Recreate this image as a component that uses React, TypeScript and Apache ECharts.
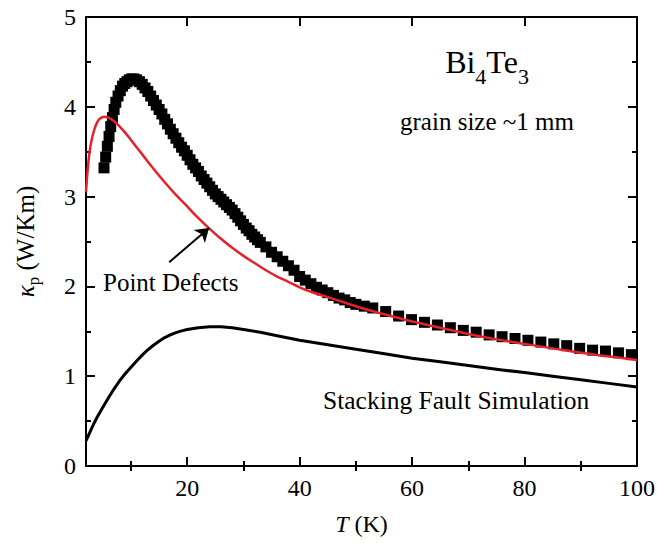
import React, { useEffect, useRef } from "react";
import * as echarts from "echarts";

// Measured lattice thermal conductivity (squares)
const T_MEAS = [5.2, 5.5, 5.8, 6.1, 6.4, 6.7, 7.0, 7.3, 7.7, 8.1, 8.5, 8.9, 9.3, 9.7, 10.1, 10.5, 11.0, 11.5, 12.0, 12.5, 13.0, 13.5, 14.0, 14.5, 15.0, 15.5, 16.0, 16.5, 17.0, 17.5, 18.0, 18.5, 19.0, 19.5, 20.0, 20.5, 21.0, 21.5, 22.0, 22.5, 23.0, 23.5, 24.0, 24.5, 25.0, 25.5, 26.0, 26.5, 27.0, 27.5, 28.0, 28.5, 29.0, 29.5, 30.0, 30.5, 31.0, 31.5, 32.0, 32.5, 33.0, 34.0, 35.0, 36.0, 37.0, 38.0, 39.0, 40.0, 41.0, 42.0, 43.0, 44.0, 45.0, 46.0, 47.0, 48.0, 49.0, 50.0, 51.5, 53.0, 55.3, 57.6, 59.9, 62.2, 64.5, 66.8, 69.1, 71.4, 73.7, 76.0, 78.3, 80.6, 82.9, 85.2, 87.5, 89.8, 92.1, 94.4, 96.7, 99.0];
const K_MEAS = [3.32, 3.44, 3.56, 3.67, 3.78, 3.88, 3.97, 4.05, 4.12, 4.18, 4.23, 4.26, 4.28, 4.30, 4.31, 4.31, 4.30, 4.28, 4.25, 4.21, 4.17, 4.12, 4.07, 4.02, 3.97, 3.92, 3.86, 3.81, 3.75, 3.70, 3.65, 3.60, 3.55, 3.51, 3.46, 3.41, 3.36, 3.32, 3.28, 3.23, 3.19, 3.15, 3.11, 3.07, 3.03, 3.00, 2.97, 2.94, 2.91, 2.88, 2.85, 2.81, 2.77, 2.73, 2.69, 2.65, 2.62, 2.58, 2.55, 2.52, 2.49, 2.44, 2.38, 2.33, 2.28, 2.23, 2.18, 2.11, 2.07, 2.03, 1.99, 1.96, 1.93, 1.90, 1.87, 1.85, 1.82, 1.80, 1.78, 1.76, 1.72, 1.67, 1.63, 1.60, 1.57, 1.54, 1.51, 1.49, 1.46, 1.44, 1.42, 1.40, 1.38, 1.36, 1.34, 1.31, 1.29, 1.28, 1.26, 1.24];

// Point defects model (red)
const T_PD = [2, 2.3, 2.6, 3, 3.5, 4, 4.5, 5.2, 6, 7, 8, 9, 10, 11, 12, 14, 16, 18, 20, 22, 24, 26, 28, 30, 32, 34, 36, 38, 40, 42, 45, 48, 51, 55, 60, 65, 70, 75, 80, 85, 90, 95, 100];
const K_PD = [3.05, 3.30, 3.48, 3.63, 3.75, 3.83, 3.87, 3.89, 3.88, 3.84, 3.78, 3.71, 3.63, 3.55, 3.47, 3.31, 3.16, 3.02, 2.89, 2.76, 2.64, 2.53, 2.43, 2.34, 2.26, 2.18, 2.11, 2.05, 1.99, 1.94, 1.88, 1.82, 1.76, 1.69, 1.61, 1.54, 1.47, 1.41, 1.36, 1.31, 1.26, 1.22, 1.18];

// Stacking fault simulation (black)
const T_SF = [2, 2.5, 3, 3.5, 4, 5, 6, 7, 8, 9, 10, 11, 12, 13, 14, 15, 16, 17, 18, 19, 20, 22, 24, 26, 28, 30, 33, 36, 40, 45, 50, 54, 60, 65, 70, 76, 80, 85, 90, 95, 100];
const K_SF = [0.28, 0.35, 0.42, 0.485, 0.545, 0.655, 0.76, 0.86, 0.95, 1.03, 1.10, 1.17, 1.235, 1.295, 1.345, 1.39, 1.43, 1.46, 1.485, 1.505, 1.52, 1.54, 1.55, 1.55, 1.54, 1.52, 1.49, 1.45, 1.40, 1.35, 1.30, 1.26, 1.20, 1.16, 1.12, 1.07, 1.04, 1.00, 0.96, 0.92, 0.88];

const X_TICKS = [20, 40, 60, 80, 100];
const X_MINOR = [10, 30, 50, 70, 90];
const ARROW = [[16.8, 2.27], [23.9, 2.65]];

const FONT = "'Liberation Serif', 'Times New Roman', serif";
const RED = "#e3232c";

export default function App() {
  const ref = useRef<HTMLDivElement>(null);
  useEffect(() => {
    if (!ref.current) return;
    const chart = echarts.init(ref.current, null, { renderer: "svg" });
    const zip = (a: number[], b: number[]) => a.map((v, i) => [v, b[i]]);
    const xBase = {
      type: "value",
      min: 2,
      max: 100,
      splitLine: { show: false },
      axisLine: { show: true, onZero: false, lineStyle: { color: "#000", width: 2 } },
    };
    const yBase = {
      type: "value",
      min: 0,
      max: 5,
      interval: 1,
      splitLine: { show: false },
      axisLine: { show: true, onZero: false, lineStyle: { color: "#000", width: 2 } },
      axisTick: { show: true, inside: true, length: 9, lineStyle: { color: "#000", width: 2 } },
      minorTick: { show: true, splitNumber: 2, length: 5, lineStyle: { color: "#000", width: 2 } },
    };
    chart.setOption({
      animation: false,
      grid: { left: 84, right: 20, top: 17, bottom: 77, containLabel: false },
      xAxis: [
        {
          ...xBase,
          position: "bottom",
          name: "{t|T} (K)",
          nameLocation: "middle",
          nameGap: 46,
          nameTextStyle: {
            fontFamily: FONT,
            fontSize: 24,
            color: "#000",
            rich: { t: { fontFamily: FONT, fontSize: 24, fontStyle: "italic", color: "#000" } },
          },
          axisTick: { show: true, inside: true, length: 9, customValues: X_TICKS, lineStyle: { color: "#000", width: 2 } },
          axisLabel: { show: true, customValues: X_TICKS, fontFamily: FONT, fontSize: 24, color: "#000", margin: 10 },
        },
        {
          ...xBase,
          position: "bottom",
          axisLine: { show: false },
          axisTick: { show: true, inside: true, length: 5, customValues: X_MINOR, lineStyle: { color: "#000", width: 2 } },
          axisLabel: { show: false },
        },
        {
          ...xBase,
          position: "top",
          axisTick: { show: true, inside: true, length: 9, customValues: X_TICKS, lineStyle: { color: "#000", width: 2 } },
          axisLabel: { show: false },
        },
        {
          ...xBase,
          position: "top",
          axisLine: { show: false },
          axisTick: { show: true, inside: true, length: 5, customValues: X_MINOR, lineStyle: { color: "#000", width: 2 } },
          axisLabel: { show: false },
        },
      ],
      yAxis: [
        {
          ...yBase,
          position: "left",
          name: "{k|κ}{s|p} (W/Km)",
          nameLocation: "middle",
          nameGap: 44,
          nameTextStyle: {
            fontFamily: FONT,
            fontSize: 25,
            color: "#000",
            lineHeight: 34,
            rich: {
              k: { fontFamily: FONT, fontSize: 25, fontStyle: "italic", color: "#000", lineHeight: 34 },
              s: { fontFamily: FONT, fontSize: 17, color: "#000", lineHeight: 16, verticalAlign: "bottom" },
            },
          },
          axisLabel: { show: true, fontFamily: FONT, fontSize: 24, color: "#000", margin: 10 },
        },
        {
          ...yBase,
          position: "right",
          axisLabel: { show: false },
        },
      ],
      series: [
        {
          name: "Stacking Fault Simulation",
          type: "line",
          data: zip(T_SF, K_SF),
          smooth: false,
          showSymbol: false,
          symbol: "none",
          lineStyle: { color: "#000", width: 3, join: "round" },
          z: 2,
        },
        {
          name: "Measured",
          type: "scatter",
          data: zip(T_MEAS, K_MEAS),
          symbol: "rect",
          symbolSize: 11,
          itemStyle: { color: "#000", opacity: 1 },
          z: 3,
        },
        {
          name: "Point Defects",
          type: "line",
          data: zip(T_PD, K_PD),
          smooth: 0.4,
          showSymbol: false,
          symbol: "none",
          lineStyle: { color: RED, width: 2.5 },
          z: 4,
          markLine: {
            silent: true,
            symbol: ["none", "arrow"],
            symbolSize: 13,
            label: { show: false },
            itemStyle: { color: "#000" },
            lineStyle: { color: "#000", width: 2, type: "solid" },
            data: [[{ coord: ARROW[0] }, { coord: ARROW[1] }]],
          },
        },
      ],
      graphic: [
        {
          type: "text",
          x: 487,
          y: 62,
          style: {
            text: "{a|Bi}{s|4}{a|Te}{s|3}",
            align: "center",
            verticalAlign: "middle",
            rich: {
              a: { fontFamily: FONT, fontSize: 32, fill: "#000", lineHeight: 50 },
              s: { fontFamily: FONT, fontSize: 22, fill: "#000", lineHeight: 16, verticalAlign: "bottom" },
            },
          },
        },
        {
          type: "text",
          x: 487,
          y: 121,
          style: { text: "grain size ~1 mm", fontFamily: FONT, fontSize: 25, fill: "#000", align: "center", verticalAlign: "middle" },
        },
        {
          type: "text",
          x: 103,
          y: 282,
          style: { text: "Point Defects", fontFamily: FONT, fontSize: 25, fill: "#000", align: "left", verticalAlign: "middle" },
        },
        {
          type: "text",
          x: 323,
          y: 400,
          style: { text: "Stacking Fault Simulation", fontFamily: FONT, fontSize: 25.5, fill: "#000", align: "left", verticalAlign: "middle" },
        },
      ],
    });
    return () => chart.dispose();
  }, []);
  return <div ref={ref} style={{ position: "absolute", left: 0, top: 0, width: 658, height: 543 }} />;
}
